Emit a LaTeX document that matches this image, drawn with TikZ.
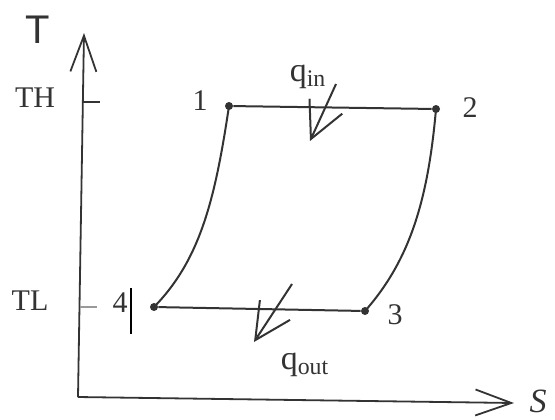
\documentclass[tikz,border=0pt]{standalone}
\usepackage{fontspec}
\setmainfont{Liberation Serif}
\setsansfont{Liberation Sans}
\usepackage{xcolor}
\usetikzlibrary{arrows.meta,positioning}
\definecolor{ink}{HTML}{333333}
\definecolor{tickc}{HTML}{9A9A9A}
\tikzset{
  ax/.style={-{Straight Barb[length=18pt,width=13pt]},line width=0.9pt,ink},
  qar/.style={-{Straight Barb[length=18pt,width=18pt]},line width=1pt,ink},
  cyc/.style={line width=1pt,ink},
  pt/.style={circle,fill=ink,inner sep=0pt,minimum size=4pt},
  lab/.style={font=\fontsize{15}{15}\selectfont,text=ink,inner sep=1pt}
}
\begin{document}
\begin{tikzpicture}[x=0.5pt,y=-0.5pt]
\useasboundingbox (0,0) rectangle (555,419);
\coordinate (o) at (78,397);
\coordinate (ytip) at (84,33);
\coordinate (xtip) at (514,403);
\draw[ax] (o)--(ytip);
\draw[ax] (o)--(xtip);
\node[font=\sffamily\fontsize{20}{20}\selectfont,text=ink] (tlab) at (38,30) {T};
\node[lab,font=\itshape\fontsize{17}{17}\selectfont] (slab) at (538,401) {S};
\node[lab] (th) at (35,98) {TH};
\node[lab] (tl) at (30,301) {TL};
\draw[line width=1pt,ink] (83,102) -- ++(17,0);
\draw[line width=1.2pt,tickc] (80,307) -- ++(17,0);
\foreach \n/\x/\y in {1/229/106,2/436/109,3/365/311,4/154/307}{\node[pt] (p\n) at (\x,\y) {};}
\foreach \n/\x/\y in {1/200/101,2/470/108,3/395/315,4/120/303}{\node[lab] (l\n) at (\x,\y) {\n};}
\draw[line width=1pt,black] (131,288) -- (131,334);
\draw[cyc] (p1) -- (p2);
\draw[cyc] (p4) -- (p3);
\draw[cyc] (p1.center) .. controls +(-14,94) and +(46,-47) .. (p4.center);
\draw[cyc] (p2.center) .. controls +(-8,91) and +(45,-51) .. (p3.center);
\coordinate (qinA) at (336,84);
\coordinate (qinB) at (310,141);
\coordinate (qoutA) at (292,284);
\coordinate (qoutB) at (254,342);
\draw[qar] (qinA) -- (qinB);
\draw[qar] (qoutA) -- (qoutB);
\node[lab,font=\fontsize{17}{17}\selectfont] (qin) at (308,77) {q\textsubscript{in}};
\node[lab,font=\fontsize{17}{17}\selectfont] (qout) at (305,365) {q\textsubscript{out}};
\end{tikzpicture}
\end{document}
